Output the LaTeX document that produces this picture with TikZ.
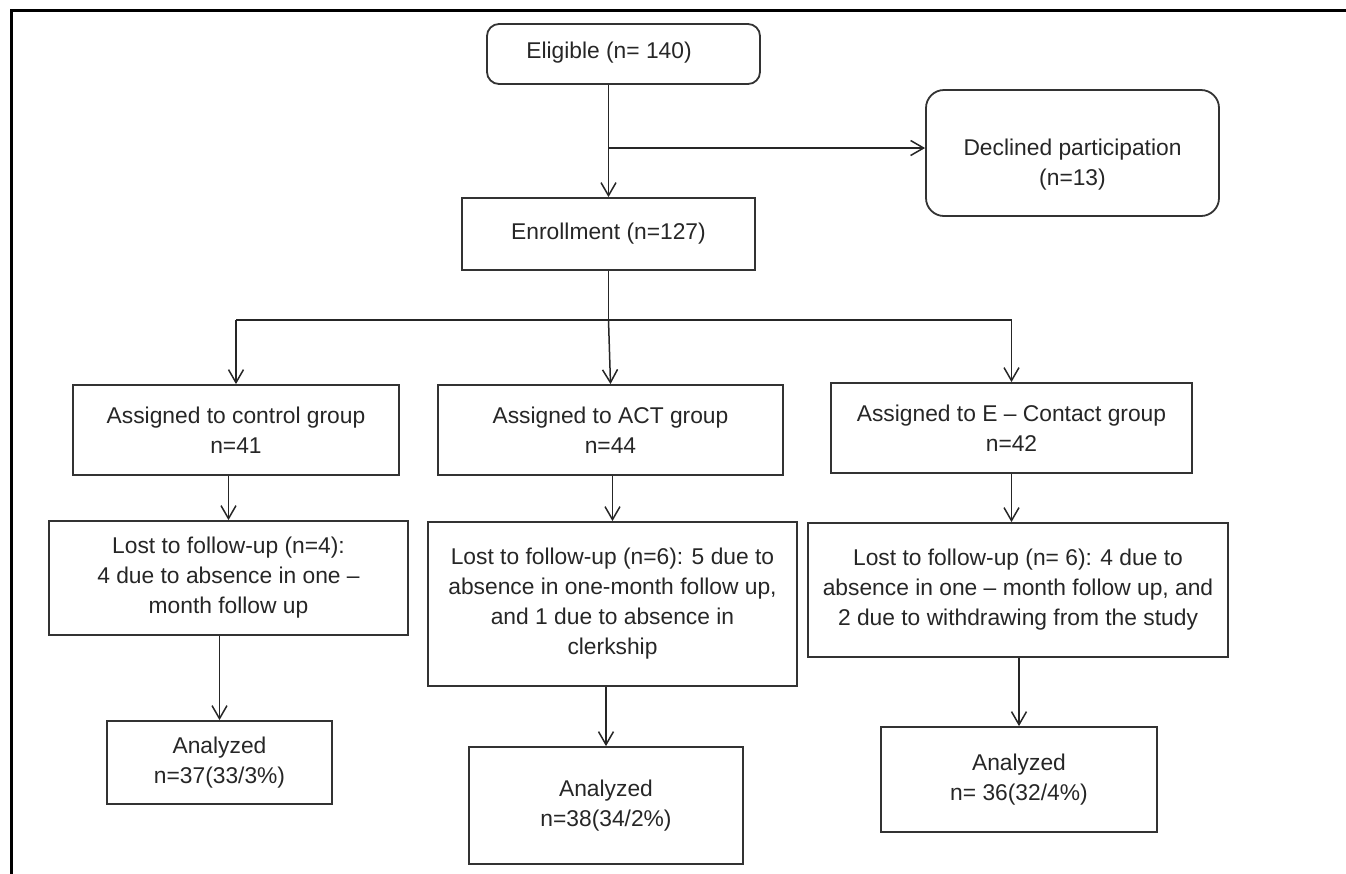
\documentclass[tikz,border=0pt]{standalone}
\usepackage{fontspec}
\setmainfont{Liberation Sans}
\usetikzlibrary{arrows.meta}
\definecolor{ink}{HTML}{262626}
\definecolor{edge}{HTML}{333333}
\begin{document}
\begin{tikzpicture}[x=0.5pt,y=-0.5pt,
  box/.style={draw=edge,line width=0.9pt,inner sep=0pt,align=center,text=ink,
    font=\fontsize{11.4pt}{15pt}\selectfont},
  rbox/.style={box,rounded corners=6pt},
  txt/.style={inner sep=0pt,align=center,text=ink,font=\fontsize{11.4pt}{15pt}\selectfont},
  arr/.style={draw=black!85,line width=0.75pt,-{Straight Barb[length=6.5pt,width=7.5pt]}},
  lin/.style={draw=black!85,line width=0.75pt},
  frame/.style={draw=black,line width=1.5pt}]
\useasboundingbox (0,0) rectangle (1346,874);
\draw[frame] (1346,10) -- (11,10) -- (11,874);

\node[rbox,minimum width=136.5pt,minimum height=30pt] (elig) at (623.5,54) {};
\node[txt] (eligtext) at (609,53) {Eligible (n= 140)};
\node[rbox,rounded corners=9pt,minimum width=146.5pt,minimum height=63pt] (decl) at (1072.5,153) {};
\node[txt] (decltext) at (1072.5,165) {Declined participation\\(n=13)};
\node[box,minimum width=146.5pt,minimum height=36pt] (enroll) at (608.5,234) {Enrollment (n=127)};
\node[box,minimum width=163pt,minimum height=45pt] (ctrl) at (236,430) {Assigned to control group\\n=41};
\node[box,minimum width=172.5pt,minimum height=45pt] (act) at (610.5,430) {Assigned to ACT group\\n=44};
\node[box,minimum width=180.5pt,minimum height=45pt] (econ) at (1011.5,428) {Assigned to E – Contact group\\n=42};
\node[box,minimum width=179.5pt,minimum height=57pt] (clost) at (228.5,578) {Lost to follow-up (n=4):\\4 due to absence in one –\\month follow up};
\node[box,minimum width=184.5pt,minimum height=82pt] (alost) at (612.5,604) {Lost to follow-up (n=6): 5 due to\\absence in one-month follow up,\\and 1 due to absence in\\clerkship};
\node[box,minimum width=210pt,minimum height=67pt] (elost) at (1018,590) {Lost to follow-up (n= 6): 4 due to\\absence in one – month follow up, and\\2 due to withdrawing from the study};
\node[box,minimum width=112.5pt,minimum height=41.5pt] (can) at (219.5,762.5) {Analyzed\\n=37(33/3\%)};
\node[box,minimum width=137pt,minimum height=58.5pt] (aan) at (606,805.5) {Analyzed\\n=38(34/2\%)};
\node[box,minimum width=138pt,minimum height=52.5pt] (ean) at (1019,779.5) {Analyzed\\n= 36(32/4\%)};

\coordinate (branch) at (enroll.north |- 0,148);
\draw[arr] (enroll.north |- elig.south) -- (enroll.north);
\draw[arr] (branch) -- (decl.west |- branch);

\coordinate (split) at (enroll.south |- 0,320);
\draw[lin] (enroll.south) -- (split);
\draw[lin] (ctrl.north |- split) -- (econ.north |- split);
\draw[arr] (ctrl.north |- split) -- (ctrl.north);
\draw[arr] (split) -- (act.north);
\draw[arr] (econ.north |- split) -- (econ.north);

\draw[arr] (clost.north |- ctrl.south) -- (clost.north);
\draw[arr] (alost.north |- act.south) -- (alost.north);
\draw[arr] (econ.south) -- (econ.south |- elost.north);

\draw[arr] (can.north |- clost.south) -- (can.north);
\draw[arr] (aan.north |- alost.south) -- (aan.north);
\draw[arr] (ean.north |- elost.south) -- (ean.north);
\end{tikzpicture}
\end{document}
